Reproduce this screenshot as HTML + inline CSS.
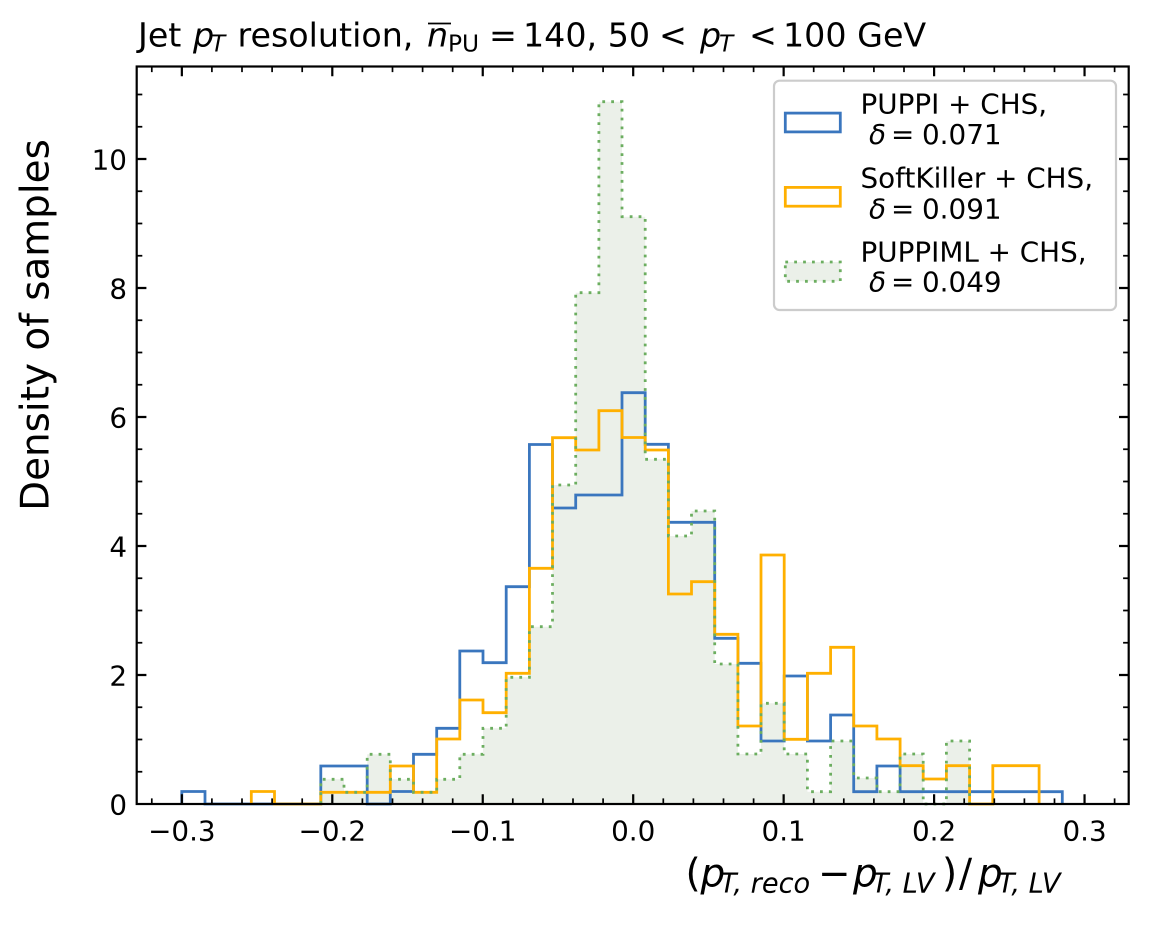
<!DOCTYPE html>
<html>
<head>
<meta charset="utf-8">
<style>
  html, body { margin: 0; padding: 0; background: #fff; }
  body { width: 1149px; height: 927px; overflow: hidden; }
  svg { display: block; }
  text { font-family: "DejaVu Sans", "Liberation Sans", sans-serif; fill: #000; white-space: pre; }
</style>
</head>
<body>
<svg width="1149" height="927" viewBox="0 0 1149 927" xmlns="http://www.w3.org/2000/svg">
  <rect x="0" y="0" width="1149" height="927" fill="#ffffff"/>

  <!-- PUPPIML fill -->
  <path d="M320.8,804 V779.3 H344 V792.3 H367.2 V754.3 H390.3 V779.3 H413.5 V792.3 H436.7 V779.3 H459.8 V754.3 H483 V728.3 H506.2 V677.3 H529.4 V626.7 H552.5 V485 H575.7 V292.7 H598.9 V101.7 H622 V216.7 H645.2 V459.3 H668.4 V536 H691.5 V511 H714.7 V664 H737.9 V754 H761 V703.3 H784.2 V754 H807.4 V791.7 H830.6 V741 H853.7 V778 H876.9 V791.7 H900.1 V754 H923.2 V804 H946.4 V741 H969.6 V804 Z" fill="#ebf0e9" stroke="none"/>

  <!-- PUPPI (blue) -->
  <path d="M181.8,804 V791.5 H205 V804 H320.8 V766 H367.2 V804 H390.3 V791.5 H413.5 V754.3 H436.7 V728.3 H459.8 V651 H483 V662.7 H506.2 V586.7 H529.4 V444.5 H552.5 V508 H575.7 V495 H622 V392.7 H645.2 V444.3 H668.4 V522.3 H714.7 V638.3 H737.9 V663.3 H761 V741 H784.2 V676 H807.4 V741 H830.6 V715 H853.7 V791.7 H876.9 V766 H900.1 V791.7 H1062.3 V804" fill="none" stroke="#3a76be" stroke-width="2.78" stroke-linejoin="miter"/>

  <!-- SoftKiller (orange) -->
  <path d="M251.3,804 V791.5 H274.5 V804 H320.8 V792.3 H390.3 V766 H413.5 V792.3 H436.7 V739 H459.8 V700 H483 V712.7 H506.2 V673.3 H529.4 V568.3 H552.5 V437.7 H575.7 V450 H598.9 V410.7 H622 V437.5 H645.2 V450 H668.4 V594 H691.5 V581.7 H714.7 V634.3 H737.9 V726 H761 V555 H784.2 V739.3 H807.4 V673.3 H830.6 V647.3 H853.7 V726 H876.9 V739 H900.1 V765.7 H923.2 V779 H946.4 V765.7 H969.6 V804 H992.8 V765.7 H1039.1 V804" fill="none" stroke="#ffb000" stroke-width="2.78" stroke-linejoin="miter"/>

  <!-- PUPPIML dotted edge -->
  <path d="M320.8,804 V779.3 H344 V792.3 H367.2 V754.3 H390.3 V779.3 H413.5 V792.3 H436.7 V779.3 H459.8 V754.3 H483 V728.3 H506.2 V677.3 H529.4 V626.7 H552.5 V485 H575.7 V292.7 H598.9 V101.7 H622 V216.7 H645.2 V459.3 H668.4 V536 H691.5 V511 H714.7 V664 H737.9 V754 H761 V703.3 H784.2 V754 H807.4 V791.7 H830.6 V741 H853.7 V778 H876.9 V791.7 H900.1 V754 H923.2 V804 H946.4 V741 H969.6 V804" fill="none" stroke="#6cae60" stroke-width="2.78" stroke-dasharray="2.8 6.1" stroke-linejoin="miter"/>

  <!-- axes frame -->
  <rect x="136.7" y="66.5" width="992" height="737.5" fill="none" stroke="#000" stroke-width="2.2"/>

  <!-- major ticks -->
  <path d="M181.85,804v-9.7 M332.3,804v-9.7 M482.75,804v-9.7 M633.2,804v-9.7 M783.65,804v-9.7 M934.1,804v-9.7 M1084.55,804v-9.7
           M181.85,66.5v9.7 M332.3,66.5v9.7 M482.75,66.5v9.7 M633.2,66.5v9.7 M783.65,66.5v9.7 M934.1,66.5v9.7 M1084.55,66.5v9.7
           M136.7,675h9.7 M136.7,546h9.7 M136.7,417h9.7 M136.7,288h9.7 M136.7,159h9.7
           M1128.7,675h-9.7 M1128.7,546h-9.7 M1128.7,417h-9.7 M1128.7,288h-9.7 M1128.7,159h-9.7" stroke="#000" stroke-width="2.2" fill="none"/>

  <!-- minor ticks -->
  <path d="M151.8,804v-5.6 M211.9,804v-5.6 M242,804v-5.6 M272.1,804v-5.6 M302.2,804v-5.6 M362.4,804v-5.6 M392.5,804v-5.6 M422.6,804v-5.6 M452.7,804v-5.6 M512.8,804v-5.6 M542.9,804v-5.6 M573,804v-5.6 M603.1,804v-5.6 M663.3,804v-5.6 M693.4,804v-5.6 M723.5,804v-5.6 M753.6,804v-5.6 M813.7,804v-5.6 M843.8,804v-5.6 M873.9,804v-5.6 M904,804v-5.6 M964.2,804v-5.6 M994.3,804v-5.6 M1024.4,804v-5.6 M1054.5,804v-5.6 M1114.6,804v-5.6
           M151.8,66.5v5.6 M211.9,66.5v5.6 M242,66.5v5.6 M272.1,66.5v5.6 M302.2,66.5v5.6 M362.4,66.5v5.6 M392.5,66.5v5.6 M422.6,66.5v5.6 M452.7,66.5v5.6 M512.8,66.5v5.6 M542.9,66.5v5.6 M573,66.5v5.6 M603.1,66.5v5.6 M663.3,66.5v5.6 M693.4,66.5v5.6 M723.5,66.5v5.6 M753.6,66.5v5.6 M813.7,66.5v5.6 M843.8,66.5v5.6 M873.9,66.5v5.6 M904,66.5v5.6 M964.2,66.5v5.6 M994.3,66.5v5.6 M1024.4,66.5v5.6 M1054.5,66.5v5.6 M1114.6,66.5v5.6
           M136.7,771.75h5.6 M136.7,739.5h5.6 M136.7,707.25h5.6 M136.7,642.75h5.6 M136.7,610.5h5.6 M136.7,578.25h5.6 M136.7,513.75h5.6 M136.7,481.5h5.6 M136.7,449.25h5.6 M136.7,384.75h5.6 M136.7,352.5h5.6 M136.7,320.25h5.6 M136.7,255.75h5.6 M136.7,223.5h5.6 M136.7,191.25h5.6 M136.7,126.75h5.6 M136.7,94.5h5.6
           M1128.7,771.75h-5.6 M1128.7,739.5h-5.6 M1128.7,707.25h-5.6 M1128.7,642.75h-5.6 M1128.7,610.5h-5.6 M1128.7,578.25h-5.6 M1128.7,513.75h-5.6 M1128.7,481.5h-5.6 M1128.7,449.25h-5.6 M1128.7,384.75h-5.6 M1128.7,352.5h-5.6 M1128.7,320.25h-5.6 M1128.7,255.75h-5.6 M1128.7,223.5h-5.6 M1128.7,191.25h-5.6 M1128.7,126.75h-5.6 M1128.7,94.5h-5.6" stroke="#000" stroke-width="1.7" fill="none"/>

  <!-- x tick labels -->
  <g font-size="27.8" text-anchor="middle">
    <text x="181.85" y="840.5">−0.3</text>
    <text x="332.3" y="840.5">−0.2</text>
    <text x="482.75" y="840.5">−0.1</text>
    <text x="633.2" y="840.5">0.0</text>
    <text x="783.65" y="840.5">0.1</text>
    <text x="934.1" y="840.5">0.2</text>
    <text x="1084.55" y="840.5">0.3</text>
  </g>

  <!-- y tick labels -->
  <g font-size="27.8" text-anchor="end">
    <text x="127" y="814.5">0</text>
    <text x="127" y="685.5">2</text>
    <text x="127" y="556.5">4</text>
    <text x="127" y="427.5">6</text>
    <text x="127" y="298.5">8</text>
    <text x="127" y="169.5">10</text>
  </g>

  <!-- y label -->
  <text transform="translate(48.5,325) rotate(-90)" text-anchor="middle" font-size="38.9">Density of samples</text>

  <!-- x label -->
  <text y="886.7" font-size="38.9"><tspan x="685.5">(</tspan><tspan x="700.5" font-style="italic">p</tspan><tspan x="720" font-style="italic" font-size="27.2" dy="6">T, reco</tspan><tspan x="818" dy="-6">−</tspan><tspan x="853" font-style="italic">p</tspan><tspan x="872" font-style="italic" font-size="27.2" dy="6">T, LV</tspan><tspan x="942" dy="-6">)</tspan><tspan x="959">/</tspan><tspan x="978" font-style="italic">p</tspan><tspan x="998" font-style="italic" font-size="27.2" dy="6">T, LV</tspan></text>

  <!-- title -->
  <text y="46.7" font-size="33.3"><tspan x="138">Jet </tspan><tspan x="193" font-style="italic">p</tspan><tspan x="211" font-style="italic" font-size="23.3" dy="5">T</tspan><tspan x="237.5" dy="-5">resolution,</tspan><tspan x="427" font-style="italic">n</tspan><tspan x="448" font-size="23.3" dy="5">PU</tspan><tspan x="489" dy="-5">=</tspan><tspan x="523">140, 50</tspan><tspan x="659">&lt;</tspan><tspan x="700" font-style="italic">p</tspan><tspan x="719" font-style="italic" font-size="23.3" dy="5">T</tspan><tspan x="749" dy="-5">&lt;</tspan><tspan x="783">100 GeV</tspan></text>
  <line x1="428" y1="23.5" x2="451" y2="23.5" stroke="#000" stroke-width="1.8"/>

  <!-- legend -->
  <rect x="774" y="80.7" width="342" height="229.3" rx="5.5" ry="5.5" fill="#ffffff" fill-opacity="0.8" stroke="#cccccc" stroke-width="2.2"/>
  <rect x="785.3" y="113.1" width="55" height="18.8" fill="none" stroke="#3a76be" stroke-width="2.78"/>
  <rect x="785.3" y="187.4" width="55" height="18.8" fill="none" stroke="#ffb000" stroke-width="2.78"/>
  <rect x="785.3" y="262" width="55" height="19.3" fill="#ebf0e9" stroke="#6cae60" stroke-width="2.78" stroke-dasharray="2.8 6.1"/>
  <g font-size="27.8">
    <text x="860.5" y="113.3">PUPPI + CHS,</text>
    <text y="144"><tspan x="869" font-style="italic">δ</tspan><tspan x="891">=</tspan><tspan x="922">0.071</tspan></text>
    <text x="860.5" y="187.3">SoftKiller + CHS,</text>
    <text y="218.3"><tspan x="869" font-style="italic">δ</tspan><tspan x="891">=</tspan><tspan x="922">0.091</tspan></text>
    <text x="860.5" y="261.7">PUPPIML + CHS,</text>
    <text y="291.7"><tspan x="869" font-style="italic">δ</tspan><tspan x="891">=</tspan><tspan x="922">0.049</tspan></text>
  </g>
</svg>
</body>
</html>
